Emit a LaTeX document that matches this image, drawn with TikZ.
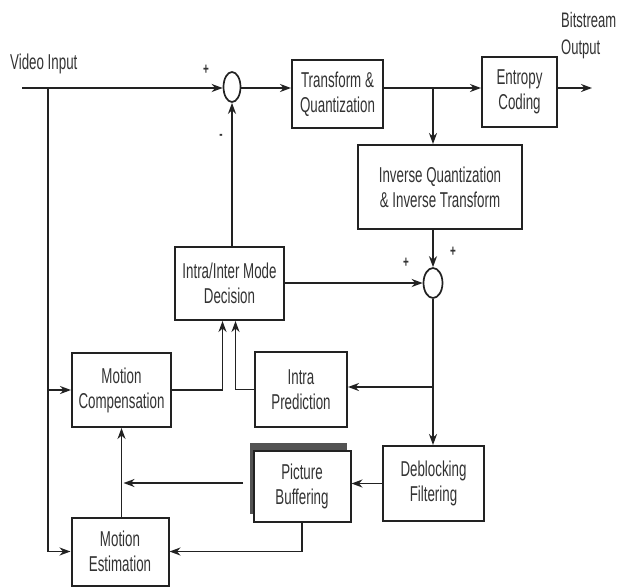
\documentclass[tikz,border=0pt]{standalone}
\usepackage{fontspec}
\setmainfont{Liberation Sans}[FakeStretch=0.62]
\usetikzlibrary{arrows.meta,shapes.geometric,calc}
\definecolor{ink}{HTML}{222222}
\definecolor{txt}{HTML}{333333}
\begin{document}
\begin{tikzpicture}[x=1pt,y=-1pt,
  box/.style={draw=ink, line width=2pt, fill=white, align=center, inner sep=2pt,
    font=\fontsize{21.5}{25}\selectfont, text=txt},
  sumnode/.style={draw=ink, line width=1.7pt, ellipse, inner sep=0pt, fill=white},
  arr/.style={draw=ink, line width=1.9pt, -{Stealth[length=11pt,width=8pt]}},
  ln/.style={draw=ink, line width=1.9pt},
  sign/.style={font=\fontsize{16}{16}\selectfont\bfseries, text=txt, inner sep=0pt},
  lab/.style={font=\fontsize{21.5}{27}\selectfont, text=txt, inner sep=0pt}]
\useasboundingbox (0,0) rectangle (620,587);
\fill[white] (0,0) rectangle (620,587);

% boxes
\node[box, minimum width=91pt, minimum height=68pt] (tq) at (337.5,94) {Transform \&\\Quantization};
\node[box, minimum width=75pt, minimum height=70pt] (ec) at (519.5,92) {Entropy\\Coding};
\node[box, minimum width=164pt, minimum height=84pt] (iq) at (440,187) {Inverse Quantization\\\& Inverse Transform};
\node[box, minimum width=109pt, minimum height=73pt] (md) at (229.5,283.5) {Intra/Inter Mode\\Decision};
\node[box, minimum width=99pt, minimum height=74pt] (mc) at (121.5,390) {Motion\\Compensation};
\node[box, minimum width=92pt, minimum height=75pt] (ip) at (301,389.5) {Intra\\Prediction};
\node[box, minimum width=101pt, minimum height=75pt] (df) at (433.5,483.5) {Deblocking\\Filtering};
\node[draw=none, fill=gray!65!black, minimum width=97pt, minimum height=71pt, inner sep=0pt] (pbs) at (298,478) {};
\node[box, minimum width=97pt, minimum height=71pt] (pb) at (302,486) {Picture\\Buffering};
\node[box, minimum width=97pt, minimum height=68pt] (me) at (120,551.5) {Motion\\Estimation};

% summing junctions
\node[sumnode, minimum width=17pt, minimum height=30pt] (c1) at (232,87) {};
\node[sumnode, minimum width=19pt, minimum height=30pt] (c2) at (433,283) {};

% labels
\node[lab, anchor=base west] (vlabel) at (10,69) {Video Input};
\node[lab, anchor=north west, align=left, font=\fontsize{21}{27}\selectfont] (blabel) at (561,12) {Bitstream\\Output};
\node[sign] (p1) at (206,70) {+};
\node[sign] (m1) at (221,137) {-};
\node[sign] (p2) at (406,263) {+};
\node[sign] (p3) at (453,252) {+};

% coordinates
\coordinate (vin) at (22,88);
\coordinate (j1) at (48,88);
\coordinate (j2) at (433,88);
\coordinate (j3) at (433,387);
\coordinate (out) at (592,88);
\coordinate (pbo) at (243,483);

% connectors
\draw[arr] (vin) -- (vin -| c1.west);
\draw[ln] (j1) -- (j1 |- me.west);
\draw[arr] (j1 |- me.west) -- (me.west);
\draw[arr] (j1 |- mc.west) -- (mc.west);
\draw[arr] (c1.east |- vin) -- (vin -| tq.west);
\draw[arr] (vin -| tq.east) -- (vin -| ec.west);
\draw[arr] (vin -| ec.east) -- (out);
\draw[arr] (j2) -- (j2 |- iq.north);
\draw[arr] (j2 |- iq.south) -- (c2.north);
\draw[arr] (md.east |- c2) -- (c2.west);
\draw[arr] (c1 |- md.north) -- (c1.south);
\draw[arr] (c2.south) -- (c2 |- df.north);
\draw[arr] (j3) -- (j3 -| ip.east);
\draw[arr] (mc.east) -| ($(md.south)+(-7,0)$);
\draw[arr] (ip.west) -| ($(md.south)+(6,0)$);
\draw[arr] (df.west) -- (df.west -| pb.east);
\draw[arr, shorten >=2pt] (pbo) -- (mc.south |- pbo);
\draw[arr] (mc.south |- me.north) -- (mc.south);
\draw[arr] (pb.south) |- (me.east);
\end{tikzpicture}
\end{document}
